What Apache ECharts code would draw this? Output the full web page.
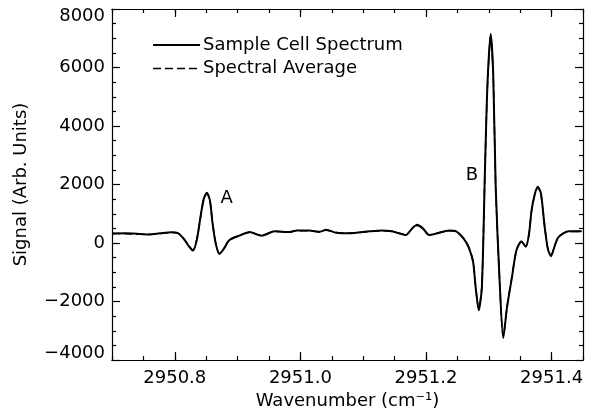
<!DOCTYPE html>
<html>
<head>
<meta charset="utf-8">
<script src="https://cdn.jsdelivr.net/npm/echarts@6/dist/echarts.min.js"></script>
<style>
html,body{margin:0;padding:0;background:#fff;}
#chart{width:589px;height:417px;}
</style>
</head>
<body>
<div id="chart"></div>
<script>
var wavenumber = [2950.700,2950.721,2950.744,2950.760,2950.776,2950.795,2950.805,2950.814,2950.822,2950.829,2950.835,2950.841,2950.846,2950.851,2950.856,2950.860,2950.865,2950.871,2950.878,2950.887,2950.903,2950.919,2950.938,2950.959,2950.983,2950.994,2951.014,2951.030,2951.041,2951.057,2951.078,2951.110,2951.130,2951.146,2951.157,2951.168,2951.178,2951.186,2951.195,2951.205,2951.216,2951.237,2951.248,2951.260,2951.268,2951.275,2951.279,2951.284,2951.289,2951.294,2951.298,2951.303,2951.307,2951.311,2951.317,2951.323,2951.329,2951.337,2951.344,2951.352,2951.359,2951.364,2951.368,2951.373,2951.378,2951.383,2951.389,2951.394,2951.399,2951.405,2951.411,2951.427,2951.448];
var sampleCell = [320,330,310,290,330,370,340,150,-100,-260,100,900,1500,1720,1450,700,0,-380,-200,100,250,375,250,400,375,430,430,380,450,350,330,400,430,400,330,270,500,620,500,270,320,430,400,150,-150,-650,-1500,-2300,-1500,2600,5500,7150,5800,1900,-1200,-3250,-2200,-1150,-250,50,-130,300,1100,1650,1920,1700,550,-200,-450,-100,200,400,400];
var spectralAverage = [330,320,300,300,320,360,330,160,-80,-240,120,880,1480,1700,1430,690,10,-360,-190,110,260,360,260,390,380,420,420,390,440,360,340,390,420,390,340,280,490,600,490,280,330,420,390,160,-140,-630,-1480,-2250,-1450,2580,5450,7080,5750,1880,-1180,-3200,-2180,-1130,-240,60,-120,310,1090,1630,1900,1680,560,-190,-430,-90,210,390,390];
var xMajorTicks = [2950.8, 2951.0, 2951.2, 2951.4];
var yMin = -4000, yMax = 8000, yStep = 2000;
var seriesNames = ['Sample Cell Spectrum', 'Spectral Average'];
var peakNames = ['A', 'B'];
var peakX = [2950.8825, 2951.273];
var peakY = [1524, 2309];

var FONT = 'DejaVu Sans';
var FS = 18;
var xMin = 2950.7, xMax = 2951.45;

function pairs(xs, ys){ return xs.map(function(x,i){ return [x, ys[i]]; }); }

var chart = echarts.init(document.getElementById('chart'), null, {renderer:'canvas'});
function xAxisDef(pos, major, showLabels, extra){
  var a = {
    type:'value', min:xMin, max:xMax, gridIndex:0, position:pos,
    splitLine:{show:false},
    axisLine:{show:true, onZero:false, lineStyle:{color:'#000', width:1.2}},
    axisTick:{show:true, inside:true, length: major?8:4, lineStyle:{color:'#000', width:1.2}},
    axisLabel:{show:false}
  };
  if (major){
    a.axisTick.customValues = xMajorTicks;
    a.axisLabel = {show:showLabels, customValues:xMajorTicks, color:'#000', fontFamily:FONT, fontSize:FS, margin:9,
      formatter:function(v){ return v.toFixed(1); }};
  } else {
    a.interval = 0.05;
  }
  return Object.assign(a, extra||{});
}
var xAxes = [
  xAxisDef('bottom', true, true, {name:'Wavenumber (cm\u207B\u00B9)', nameLocation:'middle', nameGap:20,
    nameTextStyle:{color:'#000', fontFamily:FONT, fontSize:FS}}),
  xAxisDef('bottom', false, false),
  xAxisDef('top', true, false),
  xAxisDef('top', false, false)
];
function yAxisDef(pos, showLabels, extra){
  return Object.assign({
    type:'value', min:yMin, max:yMax, interval:yStep, position:pos,
    axisLine:{show:true, onZero:false, lineStyle:{color:'#000', width:1.2}},
    axisTick:{show:true, inside:true, length:8, lineStyle:{color:'#000', width:1.2}},
    minorTick:{show:true, splitNumber:4, length:4, lineStyle:{color:'#000', width:1.2}},
    splitLine:{show:false}, minorSplitLine:{show:false},
    axisLabel:{show:showLabels, color:'#000', fontFamily:FONT, fontSize:FS, margin:7,
      formatter:function(v){
        var s = String(v).replace('-', '\u2212');
        if (v === yMax) return '{dn|' + s + '}';
        if (v === yMin) return '{up|' + s + '}';
        return s;
      },
      rich:{
        dn:{fontFamily:FONT, fontSize:FS, color:'#000', padding:[15,0,0,0]},
        up:{fontFamily:FONT, fontSize:FS, color:'#000', padding:[0,0,14,0]}
      }}
  }, extra||{});
}
var yAxes = [
  yAxisDef('left', true, {name:'Signal (Arb. Units)', nameLocation:'middle', nameGap:82,
    nameTextStyle:{color:'#000', fontFamily:FONT, fontSize:FS}}),
  yAxisDef('right', false)
];

chart.setOption({
  animation:false,
  backgroundColor:'#fff',
  grid:{left:112, right:6, top:9, bottom:57, containLabel:false},
  xAxis:xAxes,
  yAxis:yAxes,
  series:[
    {name:seriesNames[0], type:'line', xAxisIndex:0, yAxisIndex:0, data:pairs(wavenumber, sampleCell),
     smooth:0.25, showSymbol:false, symbol:'none', lineStyle:{color:'#000', width:2}},
    {name:seriesNames[1], type:'line', xAxisIndex:0, yAxisIndex:0, data:pairs(wavenumber, spectralAverage),
     smooth:0.25, showSymbol:false, symbol:'none', lineStyle:{color:'#000', width:1.5, type:[8,4]}}
  ]
});

// legend (drawn as graphic) and peak labels positioned through the axes
var g = [];
var lx0 = 153, lx1 = 200, ly = [45, 68];
g.push({type:'line', shape:{x1:lx0, y1:ly[0], x2:lx1, y2:ly[0]}, style:{stroke:'#000', lineWidth:2}});
g.push({type:'line', shape:{x1:lx0, y1:ly[1]+0.5, x2:lx1, y2:ly[1]+0.5}, style:{stroke:'#000', lineWidth:1.5, lineDash:[8,4]}});
seriesNames.forEach(function(n, i){
  g.push({type:'text', x:203, y:ly[i], style:{text:n, fill:'#000', font:FS+'px "'+FONT+'"', textVerticalAlign:'middle', textAlign:'left'}});
});
peakNames.forEach(function(n, i){
  var p = chart.convertToPixel({xAxisIndex:0, yAxisIndex:0}, [peakX[i], peakY[i]]);
  g.push({type:'text', x:p[0], y:p[1], style:{text:n, fill:'#000', font:FS+'px "'+FONT+'"', textVerticalAlign:'middle', textAlign:'center'}});
});
chart.setOption({graphic:g});
</script>
</body>
</html>
